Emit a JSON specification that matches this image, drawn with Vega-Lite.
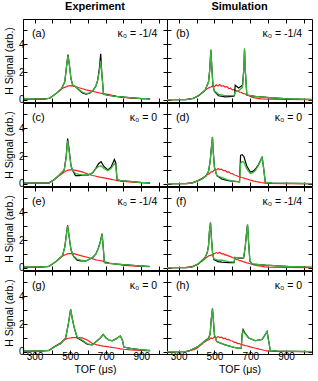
{
"$schema": "https://vega.github.io/schema/vega-lite/v6.json",
"padding": {"left": 3, "top": 0, "right": 0, "bottom": 0},
"config": {
  "font": "Liberation Sans",
  "view": {"stroke": "black", "strokeWidth": 1},
  "axis": {"grid": false, "domainColor": "black", "domainWidth": 1, "tickColor": "black", "tickSize": -4, "tickWidth": 1, "labelFontSize": 10, "labelColor": "black", "labelPadding": 3, "titleFontSize": 10.5, "titleFontWeight": "normal", "titleColor": "black", "titlePadding": 4},
  "axisBottom": {"labelPadding": 1, "titlePadding": 3},
  "title": {"fontSize": 11, "fontWeight": "bold", "color": "black", "anchor": "middle", "offset": 7}
},
"data": {"name": "d"},
"datasets": {"d": [
{"p":"a","lab":"(a)","kap":"κ₀ = -1/4"},{"p":"b","lab":"(b)","kap":"κ₀ = -1/4"},{"p":"c","lab":"(c)","kap":"κ₀ = 0"},{"p":"d","lab":"(d)","kap":"κ₀ = 0"},
{"p":"e","lab":"(e)","kap":"κ₀ = -1/4"},{"p":"f","lab":"(f)","kap":"κ₀ = -1/4"},{"p":"g","lab":"(g)","kap":"κ₀ = 0"},{"p":"h","lab":"(h)","kap":"κ₀ = 0"},
{"p":"a","t":240,"k":0.05,"g":0.05,"r":0.03},{"p":"a","t":300,"k":0.06,"g":0.06,"r":0.04},{"p":"a","t":360,"k":0.08,"g":0.08,"r":0.08},{"p":"a","t":385,"k":0.12,"g":0.12,"r":0.12},{"p":"a","t":420,"k":0.45,"g":0.45,"r":0.45},{"p":"a","t":450,"k":0.75,"g":0.75,"r":0.8},{"p":"a","t":470,"k":1.3,"g":1.3,"r":0.9},{"p":"a","t":480,"k":2.4,"g":2.4,"r":0.95},{"p":"a","t":488,"k":3.25,"g":3.2,"r":1.0},{"p":"a","t":496,"k":2.5,"g":2.5,"r":1.0},{"p":"a","t":505,"k":1.5,"g":1.5,"r":1.02},{"p":"a","t":515,"k":1.05,"g":1.05,"r":1.0},{"p":"a","t":530,"k":0.95,"g":0.95,"r":0.95},{"p":"a","t":550,"k":0.7,"g":0.75,"r":0.87},{"p":"a","t":570,"k":0.5,"g":0.55,"r":0.8},{"p":"a","t":590,"k":0.42,"g":0.45,"r":0.72},{"p":"a","t":610,"k":0.48,"g":0.5,"r":0.66},{"p":"a","t":630,"k":0.7,"g":0.7,"r":0.6},{"p":"a","t":645,"k":1.0,"g":1.0,"r":0.56},{"p":"a","t":655,"k":1.4,"g":1.4,"r":0.53},{"p":"a","t":665,"k":2.3,"g":2.1,"r":0.5},{"p":"a","t":672,"k":3.3,"g":2.8,"r":0.48},{"p":"a","t":678,"k":2.0,"g":1.9,"r":0.47},{"p":"a","t":688,"k":0.4,"g":0.4,"r":0.45},{"p":"a","t":720,"k":0.32,"g":0.32,"r":0.38},{"p":"a","t":760,"k":0.25,"g":0.25,"r":0.25},{"p":"a","t":800,"k":0.2,"g":0.2,"r":0.18},{"p":"a","t":850,"k":0.15,"g":0.15,"r":0.12},{"p":"a","t":900,"k":0.1,"g":0.1,"r":0.09},{"p":"a","t":950,"k":0.08,"g":0.08,"r":0.07},
{"p":"c","t":240,"k":0.05,"g":0.05,"r":0.03},{"p":"c","t":320,"k":0.05,"g":0.05,"r":0.05},{"p":"c","t":383,"k":0.08,"g":0.08,"r":0.08},{"p":"c","t":410,"k":0.3,"g":0.3,"r":0.3},{"p":"c","t":440,"k":0.65,"g":0.65,"r":0.6},{"p":"c","t":467,"k":1.0,"g":1.0,"r":0.85},{"p":"c","t":478,"k":2.0,"g":1.9,"r":0.92},{"p":"c","t":486,"k":3.25,"g":3.1,"r":0.97},{"p":"c","t":495,"k":2.4,"g":2.3,"r":1.0},{"p":"c","t":505,"k":1.3,"g":1.3,"r":1.0},{"p":"c","t":515,"k":0.95,"g":0.95,"r":1.0},{"p":"c","t":530,"k":0.6,"g":0.75,"r":0.97},{"p":"c","t":550,"k":0.6,"g":0.68,"r":0.92},{"p":"c","t":571,"k":0.62,"g":0.64,"r":0.85},{"p":"c","t":600,"k":0.62,"g":0.64,"r":0.7},{"p":"c","t":627,"k":0.8,"g":0.8,"r":0.6},{"p":"c","t":646,"k":1.15,"g":1.1,"r":0.55},{"p":"c","t":660,"k":1.45,"g":1.25,"r":0.5},{"p":"c","t":674,"k":1.6,"g":1.3,"r":0.47},{"p":"c","t":690,"k":1.25,"g":1.1,"r":0.43},{"p":"c","t":712,"k":1.0,"g":0.95,"r":0.38},{"p":"c","t":730,"k":1.2,"g":1.1,"r":0.33},{"p":"c","t":749,"k":1.75,"g":1.45,"r":0.28},{"p":"c","t":757,"k":1.5,"g":1.3,"r":0.26},{"p":"c","t":764,"k":0.3,"g":0.3,"r":0.24},{"p":"c","t":790,"k":0.22,"g":0.22,"r":0.2},{"p":"c","t":833,"k":0.18,"g":0.18,"r":0.14},{"p":"c","t":900,"k":0.1,"g":0.1,"r":0.09},{"p":"c","t":950,"k":0.07,"g":0.07,"r":0.06},
{"p":"e","t":240,"k":0.05,"g":0.05,"r":0.03},{"p":"e","t":320,"k":0.06,"g":0.06,"r":0.05},{"p":"e","t":380,"k":0.1,"g":0.1,"r":0.1},{"p":"e","t":420,"k":0.45,"g":0.45,"r":0.45},{"p":"e","t":458,"k":0.9,"g":0.9,"r":0.85},{"p":"e","t":470,"k":1.5,"g":1.5,"r":0.92},{"p":"e","t":480,"k":2.5,"g":2.4,"r":0.98},{"p":"e","t":486,"k":3.05,"g":3.0,"r":1.0},{"p":"e","t":495,"k":2.2,"g":2.2,"r":1.02},{"p":"e","t":505,"k":1.3,"g":1.3,"r":1.03},{"p":"e","t":520,"k":0.8,"g":0.85,"r":1.02},{"p":"e","t":540,"k":0.55,"g":0.62,"r":0.95},{"p":"e","t":560,"k":0.5,"g":0.55,"r":0.88},{"p":"e","t":590,"k":0.5,"g":0.5,"r":0.78},{"p":"e","t":627,"k":0.75,"g":0.75,"r":0.65},{"p":"e","t":645,"k":1.0,"g":1.0,"r":0.58},{"p":"e","t":658,"k":1.4,"g":1.35,"r":0.55},{"p":"e","t":670,"k":1.9,"g":1.85,"r":0.52},{"p":"e","t":680,"k":2.45,"g":2.4,"r":0.5},{"p":"e","t":686,"k":1.5,"g":1.5,"r":0.48},{"p":"e","t":693,"k":0.38,"g":0.38,"r":0.45},{"p":"e","t":720,"k":0.32,"g":0.32,"r":0.35},{"p":"e","t":760,"k":0.28,"g":0.28,"r":0.26},{"p":"e","t":796,"k":0.24,"g":0.24,"r":0.2},{"p":"e","t":850,"k":0.18,"g":0.18,"r":0.14},{"p":"e","t":890,"k":0.14,"g":0.14,"r":0.12},{"p":"e","t":946,"k":0.1,"g":0.1,"r":0.09},
{"p":"g","t":240,"k":0.05,"g":0.05,"r":0.03},{"p":"g","t":320,"k":0.06,"g":0.06,"r":0.05},{"p":"g","t":381,"k":0.1,"g":0.1,"r":0.1},{"p":"g","t":409,"k":0.35,"g":0.35,"r":0.35},{"p":"g","t":447,"k":0.6,"g":0.6,"r":0.65},{"p":"g","t":475,"k":1.0,"g":1.0,"r":0.92},{"p":"g","t":490,"k":2.0,"g":2.0,"r":0.98},{"p":"g","t":503,"k":3.05,"g":3.05,"r":1.0},{"p":"g","t":512,"k":2.4,"g":2.4,"r":1.02},{"p":"g","t":522,"k":1.8,"g":1.8,"r":1.03},{"p":"g","t":540,"k":1.0,"g":1.05,"r":1.02},{"p":"g","t":568,"k":0.8,"g":0.85,"r":1.0},{"p":"g","t":596,"k":0.55,"g":0.6,"r":0.85},{"p":"g","t":624,"k":0.5,"g":0.5,"r":0.62},{"p":"g","t":652,"k":0.8,"g":0.8,"r":0.5},{"p":"g","t":670,"k":1.0,"g":1.0,"r":0.45},{"p":"g","t":686,"k":1.25,"g":1.25,"r":0.42},{"p":"g","t":702,"k":1.0,"g":1.0,"r":0.4},{"p":"g","t":718,"k":0.85,"g":0.85,"r":0.36},{"p":"g","t":737,"k":0.8,"g":0.8,"r":0.32},{"p":"g","t":760,"k":0.95,"g":0.95,"r":0.28},{"p":"g","t":783,"k":1.15,"g":1.15,"r":0.22},{"p":"g","t":795,"k":0.8,"g":0.8,"r":0.2},{"p":"g","t":802,"k":0.35,"g":0.35,"r":0.19},{"p":"g","t":840,"k":0.25,"g":0.25,"r":0.15},{"p":"g","t":900,"k":0.15,"g":0.15,"r":0.11},{"p":"g","t":950,"k":0.1,"g":0.1,"r":0.08},
{"p":"b","t":235,"k":0.01,"g":0.01},{"p":"b","t":340,"k":0.02,"g":0.02},{"p":"b","t":380,"k":0.1,"g":0.1},{"p":"b","t":411,"k":0.3,"g":0.3},{"p":"b","t":448,"k":0.7,"g":0.7},{"p":"b","t":467,"k":1.3,"g":1.3},{"p":"b","t":474,"k":2.2,"g":2.2},{"p":"b","t":480,"k":3.6,"g":3.6},{"p":"b","t":486,"k":2.2,"g":2.2},{"p":"b","t":492,"k":1.0,"g":1.0},{"p":"b","t":500,"k":0.6,"g":0.65},{"p":"b","t":523,"k":0.3,"g":0.4},{"p":"b","t":560,"k":0.22,"g":0.3},{"p":"b","t":600,"k":0.25,"g":0.3},{"p":"b","t":612,"k":0.3,"g":0.35},{"p":"b","t":616,"k":1.05,"g":0.6},{"p":"b","t":635,"k":0.85,"g":0.65},{"p":"b","t":657,"k":1.05,"g":0.9},{"p":"b","t":664,"k":2.2,"g":2.2},{"p":"b","t":668,"k":3.6,"g":3.7},{"p":"b","t":673,"k":2.0,"g":2.0},{"p":"b","t":681,"k":0.35,"g":0.35},{"p":"b","t":728,"k":0.25,"g":0.25},{"p":"b","t":822,"k":0.15,"g":0.15},{"p":"b","t":915,"k":0.08,"g":0.08},{"p":"b","t":1045,"k":0.03,"g":0.03},
{"p":"b","t":235,"r":0.01},{"p":"b","t":340,"r":0.03},{"p":"b","t":380,"r":0.1},{"p":"b","t":400,"r":0.22},{"p":"b","t":410,"r":0.3},{"p":"b","t":420,"r":0.38},{"p":"b","t":430,"r":0.5},{"p":"b","t":440,"r":0.6},{"p":"b","t":450,"r":0.72},{"p":"b","t":460,"r":0.8},{"p":"b","t":470,"r":0.88},{"p":"b","t":480,"r":0.92},{"p":"b","t":490,"r":1.02},{"p":"b","t":500,"r":0.95},{"p":"b","t":510,"r":1.08},{"p":"b","t":520,"r":1.0},{"p":"b","t":530,"r":1.1},{"p":"b","t":540,"r":0.98},{"p":"b","t":550,"r":1.02},{"p":"b","t":560,"r":0.92},{"p":"b","t":570,"r":0.95},{"p":"b","t":580,"r":0.82},{"p":"b","t":590,"r":0.85},{"p":"b","t":600,"r":0.72},{"p":"b","t":610,"r":0.75},{"p":"b","t":620,"r":0.65},{"p":"b","t":630,"r":0.66},{"p":"b","t":640,"r":0.55},{"p":"b","t":650,"r":0.55},{"p":"b","t":660,"r":0.45},{"p":"b","t":670,"r":0.44},{"p":"b","t":680,"r":0.35},{"p":"b","t":690,"r":0.32},{"p":"b","t":700,"r":0.25},{"p":"b","t":710,"r":0.2},{"p":"b","t":720,"r":0.16},{"p":"b","t":740,"r":0.11},{"p":"b","t":760,"r":0.08},{"p":"b","t":800,"r":0.05},{"p":"b","t":900,"r":0.03},{"p":"b","t":1045,"r":0.02},
{"p":"d","t":235,"k":0.01,"g":0.01},{"p":"d","t":340,"k":0.02,"g":0.02},{"p":"d","t":373,"k":0.06,"g":0.06},{"p":"d","t":400,"k":0.18,"g":0.18},{"p":"d","t":430,"k":0.35,"g":0.35},{"p":"d","t":455,"k":0.6,"g":0.6},{"p":"d","t":467,"k":0.9,"g":0.9},{"p":"d","t":476,"k":1.6,"g":1.6},{"p":"d","t":483,"k":2.6,"g":2.6},{"p":"d","t":489,"k":3.35,"g":3.35},{"p":"d","t":494,"k":2.2,"g":2.2},{"p":"d","t":500,"k":1.2,"g":1.2},{"p":"d","t":513,"k":0.6,"g":0.6},{"p":"d","t":541,"k":0.35,"g":0.45},{"p":"d","t":570,"k":0.25,"g":0.3},{"p":"d","t":597,"k":0.2,"g":0.22},{"p":"d","t":640,"k":0.15,"g":0.15},{"p":"d","t":646,"k":2.05,"g":1.45},{"p":"d","t":655,"k":2.1,"g":1.6},{"p":"d","t":665,"k":1.95,"g":1.55},{"p":"d","t":680,"k":1.3,"g":1.1},{"p":"d","t":700,"k":0.85,"g":0.75},{"p":"d","t":715,"k":0.9,"g":0.8},{"p":"d","t":728,"k":1.05,"g":0.95},{"p":"d","t":745,"k":1.35,"g":1.3},{"p":"d","t":760,"k":1.75,"g":1.7},{"p":"d","t":766,"k":1.95,"g":1.95},{"p":"d","t":774,"k":1.2,"g":1.2},{"p":"d","t":784,"k":0.12,"g":0.12},{"p":"d","t":820,"k":0.06,"g":0.06},{"p":"d","t":1045,"k":0.02,"g":0.02},
{"p":"d","t":235,"r":0.01},{"p":"d","t":340,"r":0.03},{"p":"d","t":380,"r":0.1},{"p":"d","t":400,"r":0.2},{"p":"d","t":410,"r":0.25},{"p":"d","t":420,"r":0.33},{"p":"d","t":430,"r":0.38},{"p":"d","t":440,"r":0.48},{"p":"d","t":450,"r":0.55},{"p":"d","t":460,"r":0.68},{"p":"d","t":470,"r":0.72},{"p":"d","t":480,"r":0.85},{"p":"d","t":490,"r":0.88},{"p":"d","t":500,"r":1.0},{"p":"d","t":510,"r":0.98},{"p":"d","t":520,"r":1.1},{"p":"d","t":530,"r":1.02},{"p":"d","t":540,"r":1.05},{"p":"d","t":550,"r":0.95},{"p":"d","t":560,"r":0.96},{"p":"d","t":570,"r":0.85},{"p":"d","t":580,"r":0.86},{"p":"d","t":590,"r":0.75},{"p":"d","t":600,"r":0.74},{"p":"d","t":610,"r":0.64},{"p":"d","t":620,"r":0.62},{"p":"d","t":630,"r":0.55},{"p":"d","t":640,"r":0.52},{"p":"d","t":650,"r":0.46},{"p":"d","t":660,"r":0.44},{"p":"d","t":670,"r":0.38},{"p":"d","t":680,"r":0.36},{"p":"d","t":690,"r":0.32},{"p":"d","t":700,"r":0.27},{"p":"d","t":710,"r":0.25},{"p":"d","t":720,"r":0.2},{"p":"d","t":730,"r":0.18},{"p":"d","t":740,"r":0.14},{"p":"d","t":750,"r":0.13},{"p":"d","t":760,"r":0.1},{"p":"d","t":780,"r":0.06},{"p":"d","t":800,"r":0.04},{"p":"d","t":900,"r":0.02},{"p":"d","t":1045,"r":0.01},
{"p":"f","t":235,"k":0.01,"g":0.01},{"p":"f","t":340,"k":0.02,"g":0.02},{"p":"f","t":373,"k":0.06,"g":0.06},{"p":"f","t":411,"k":0.3,"g":0.3},{"p":"f","t":448,"k":0.75,"g":0.75},{"p":"f","t":460,"k":1.1,"g":1.1},{"p":"f","t":467,"k":1.6,"g":1.6},{"p":"f","t":472,"k":2.6,"g":2.6},{"p":"f","t":478,"k":3.25,"g":3.25},{"p":"f","t":484,"k":2.0,"g":2.0},{"p":"f","t":490,"k":1.0,"g":1.0},{"p":"f","t":497,"k":0.6,"g":0.65},{"p":"f","t":520,"k":0.45,"g":0.55},{"p":"f","t":541,"k":0.42,"g":0.55},{"p":"f","t":580,"k":0.38,"g":0.45},{"p":"f","t":610,"k":0.38,"g":0.42},{"p":"f","t":614,"k":0.75,"g":0.75},{"p":"f","t":640,"k":0.7,"g":0.72},{"p":"f","t":663,"k":0.72,"g":0.75},{"p":"f","t":672,"k":1.5,"g":1.5},{"p":"f","t":680,"k":2.6,"g":2.6},{"p":"f","t":685,"k":3.1,"g":3.1},{"p":"f","t":690,"k":2.0,"g":2.0},{"p":"f","t":698,"k":0.5,"g":0.5},{"p":"f","t":710,"k":0.28,"g":0.28},{"p":"f","t":784,"k":0.2,"g":0.2},{"p":"f","t":915,"k":0.1,"g":0.1},{"p":"f","t":1045,"k":0.04,"g":0.04},
{"p":"f","t":235,"r":0.01},{"p":"f","t":340,"r":0.03},{"p":"f","t":380,"r":0.12},{"p":"f","t":400,"r":0.2},{"p":"f","t":410,"r":0.28},{"p":"f","t":420,"r":0.38},{"p":"f","t":430,"r":0.48},{"p":"f","t":440,"r":0.58},{"p":"f","t":450,"r":0.7},{"p":"f","t":460,"r":0.78},{"p":"f","t":470,"r":0.88},{"p":"f","t":480,"r":0.9},{"p":"f","t":490,"r":1.0},{"p":"f","t":500,"r":1.02},{"p":"f","t":510,"r":1.1},{"p":"f","t":520,"r":1.05},{"p":"f","t":530,"r":1.12},{"p":"f","t":540,"r":1.0},{"p":"f","t":550,"r":1.02},{"p":"f","t":560,"r":0.92},{"p":"f","t":570,"r":0.93},{"p":"f","t":580,"r":0.84},{"p":"f","t":590,"r":0.82},{"p":"f","t":600,"r":0.74},{"p":"f","t":610,"r":0.72},{"p":"f","t":620,"r":0.62},{"p":"f","t":630,"r":0.6},{"p":"f","t":640,"r":0.52},{"p":"f","t":650,"r":0.5},{"p":"f","t":660,"r":0.45},{"p":"f","t":670,"r":0.42},{"p":"f","t":680,"r":0.36},{"p":"f","t":690,"r":0.34},{"p":"f","t":700,"r":0.3},{"p":"f","t":710,"r":0.27},{"p":"f","t":720,"r":0.22},{"p":"f","t":740,"r":0.16},{"p":"f","t":760,"r":0.13},{"p":"f","t":780,"r":0.08},{"p":"f","t":800,"r":0.06},{"p":"f","t":900,"r":0.03},{"p":"f","t":1045,"r":0.02},
{"p":"h","t":235,"k":0.01,"g":0.01},{"p":"h","t":340,"k":0.02,"g":0.02},{"p":"h","t":355,"k":0.05,"g":0.05},{"p":"h","t":411,"k":0.4,"g":0.4},{"p":"h","t":448,"k":0.8,"g":0.8},{"p":"h","t":468,"k":1.0,"g":1.0},{"p":"h","t":476,"k":1.3,"g":1.3},{"p":"h","t":482,"k":2.3,"g":2.3},{"p":"h","t":489,"k":3.1,"g":3.1},{"p":"h","t":494,"k":2.3,"g":2.3},{"p":"h","t":500,"k":1.2,"g":1.2},{"p":"h","t":513,"k":0.75,"g":0.75},{"p":"h","t":560,"k":0.5,"g":0.5},{"p":"h","t":616,"k":0.3,"g":0.3},{"p":"h","t":650,"k":0.25,"g":0.25},{"p":"h","t":654,"k":1.2,"g":1.1},{"p":"h","t":660,"k":1.6,"g":1.5},{"p":"h","t":668,"k":1.4,"g":1.35},{"p":"h","t":691,"k":1.0,"g":1.0},{"p":"h","t":728,"k":0.8,"g":0.8},{"p":"h","t":766,"k":0.9,"g":0.9},{"p":"h","t":782,"k":1.2,"g":1.2},{"p":"h","t":794,"k":1.45,"g":1.45},{"p":"h","t":800,"k":1.0,"g":1.0},{"p":"h","t":812,"k":0.1,"g":0.1},{"p":"h","t":850,"k":0.06,"g":0.06},{"p":"h","t":1045,"k":0.02,"g":0.02},
{"p":"h","t":235,"r":0.01},{"p":"h","t":340,"r":0.03},{"p":"h","t":380,"r":0.15},{"p":"h","t":400,"r":0.25},{"p":"h","t":410,"r":0.35},{"p":"h","t":420,"r":0.45},{"p":"h","t":430,"r":0.55},{"p":"h","t":440,"r":0.68},{"p":"h","t":450,"r":0.75},{"p":"h","t":460,"r":0.85},{"p":"h","t":470,"r":0.88},{"p":"h","t":480,"r":1.0},{"p":"h","t":490,"r":0.95},{"p":"h","t":500,"r":1.08},{"p":"h","t":510,"r":1.0},{"p":"h","t":520,"r":1.1},{"p":"h","t":530,"r":1.02},{"p":"h","t":540,"r":1.05},{"p":"h","t":550,"r":0.95},{"p":"h","t":560,"r":0.98},{"p":"h","t":570,"r":0.88},{"p":"h","t":580,"r":0.9},{"p":"h","t":590,"r":0.8},{"p":"h","t":600,"r":0.78},{"p":"h","t":610,"r":0.7},{"p":"h","t":620,"r":0.68},{"p":"h","t":630,"r":0.6},{"p":"h","t":640,"r":0.6},{"p":"h","t":650,"r":0.52},{"p":"h","t":660,"r":0.5},{"p":"h","t":670,"r":0.45},{"p":"h","t":680,"r":0.44},{"p":"h","t":690,"r":0.4},{"p":"h","t":700,"r":0.36},{"p":"h","t":710,"r":0.33},{"p":"h","t":720,"r":0.3},{"p":"h","t":730,"r":0.26},{"p":"h","t":740,"r":0.24},{"p":"h","t":750,"r":0.2},{"p":"h","t":760,"r":0.17},{"p":"h","t":770,"r":0.14},{"p":"h","t":780,"r":0.1},{"p":"h","t":800,"r":0.06},{"p":"h","t":900,"r":0.03},{"p":"h","t":1045,"r":0.02}
]},
"bounds": "flush",
"columns": 2,
"spacing": {"row": 1, "column": 0},
"concat": [
   {"width": 144, "height": 83, "title": "Experiment", "transform": [{"filter": "datum.p=='a'"}], "resolve": {"axis": {"x": "independent", "y": "independent"}},
    "layer": [
     {"transform": [{"filter": "isValid(datum.r)"}], "mark": {"type": "line", "color": "#ff1e1e", "strokeWidth": 1.2, "clip": true},
      "encoding": {"x": {"field": "t", "type": "quantitative", "scale": {"domain": [235, 1045], "nice": false, "zero": false}, "axis": {"values": [300,400,500,600,700,800,900,1000], "labels": false, "title": null}},
                   "y": {"field": "r", "type": "quantitative", "scale": {"domain": [-0.15, 5.8], "nice": false, "zero": false}, "axis": {"values": [0,1,2,3,4,5], "labelExpr": "datum.value % 2 == 0 ? datum.label : ''", "title": "H Signal (arb.)"}}}},
     {"transform": [{"filter": "isValid(datum.k)"}], "mark": {"type": "line", "color": "black", "strokeWidth": 1.2, "clip": true},
      "encoding": {"x": {"field": "t", "type": "quantitative", "axis": null}, "y": {"field": "k", "type": "quantitative", "axis": null}}},
     {"transform": [{"filter": "isValid(datum.g)"}], "mark": {"type": "line", "color": "#3ab53a", "strokeWidth": 1.3, "clip": true},
      "encoding": {"x": {"field": "t", "type": "quantitative", "axis": null}, "y": {"field": "g", "type": "quantitative", "axis": null}}},
     {"transform": [{"filter": "isValid(datum.lab)"}], "mark": {"type": "text", "align": "left", "baseline": "middle", "fontSize": 11},
      "encoding": {"x": {"datum": 285, "type": "quantitative", "axis": {"orient": "top", "values": [300,400,500,600,700,800,900,1000], "labels": false, "title": null, "domain": false}},
                   "y": {"datum": 4.7, "type": "quantitative", "axis": {"orient": "right", "values": [0,1,2,3,4,5], "labels": false, "title": null, "domain": false}}, "text": {"field": "lab"}}},
     {"transform": [{"filter": "isValid(datum.lab)"}], "mark": {"type": "text", "align": "right", "baseline": "middle", "fontSize": 10.5},
      "encoding": {"x": {"datum": 990, "type": "quantitative", "axis": null}, "y": {"datum": 4.7, "type": "quantitative", "axis": null}, "text": {"field": "kap"}}}
    ]},
   {"width": 145, "height": 83, "title": "Simulation", "transform": [{"filter": "datum.p=='b'"}], "resolve": {"axis": {"x": "independent", "y": "independent"}},
    "layer": [
     {"transform": [{"filter": "isValid(datum.r)"}], "mark": {"type": "line", "color": "#ff1e1e", "strokeWidth": 1.2, "clip": true},
      "encoding": {"x": {"field": "t", "type": "quantitative", "scale": {"domain": [235, 1045], "nice": false, "zero": false}, "axis": {"values": [300,400,500,600,700,800,900,1000], "labels": false, "title": null}},
                   "y": {"field": "r", "type": "quantitative", "scale": {"domain": [-0.15, 5.8], "nice": false, "zero": false}, "axis": {"values": [0,1,2,3,4,5], "labels": false, "title": null}}}},
     {"transform": [{"filter": "isValid(datum.k)"}], "mark": {"type": "line", "color": "black", "strokeWidth": 1.2, "clip": true},
      "encoding": {"x": {"field": "t", "type": "quantitative", "axis": null}, "y": {"field": "k", "type": "quantitative", "axis": null}}},
     {"transform": [{"filter": "isValid(datum.g)"}], "mark": {"type": "line", "color": "#3ab53a", "strokeWidth": 1.3, "clip": true},
      "encoding": {"x": {"field": "t", "type": "quantitative", "axis": null}, "y": {"field": "g", "type": "quantitative", "axis": null}}},
     {"transform": [{"filter": "isValid(datum.lab)"}], "mark": {"type": "text", "align": "left", "baseline": "middle", "fontSize": 11},
      "encoding": {"x": {"datum": 285, "type": "quantitative", "axis": {"orient": "top", "values": [300,400,500,600,700,800,900,1000], "labels": false, "title": null, "domain": false}},
                   "y": {"datum": 4.7, "type": "quantitative", "axis": {"orient": "right", "values": [0,1,2,3,4,5], "labels": false, "title": null, "domain": false}}, "text": {"field": "lab"}}},
     {"transform": [{"filter": "isValid(datum.lab)"}], "mark": {"type": "text", "align": "right", "baseline": "middle", "fontSize": 10.5},
      "encoding": {"x": {"datum": 990, "type": "quantitative", "axis": null}, "y": {"datum": 4.7, "type": "quantitative", "axis": null}, "text": {"field": "kap"}}}
    ]},
   {"width": 144, "height": 83, "transform": [{"filter": "datum.p=='c'"}], "resolve": {"axis": {"x": "independent", "y": "independent"}},
    "layer": [
     {"transform": [{"filter": "isValid(datum.r)"}], "mark": {"type": "line", "color": "#ff1e1e", "strokeWidth": 1.2, "clip": true},
      "encoding": {"x": {"field": "t", "type": "quantitative", "scale": {"domain": [235, 1045], "nice": false, "zero": false}, "axis": {"values": [300,400,500,600,700,800,900,1000], "labels": false, "title": null}},
                   "y": {"field": "r", "type": "quantitative", "scale": {"domain": [-0.15, 5.8], "nice": false, "zero": false}, "axis": {"values": [0,1,2,3,4,5], "labelExpr": "datum.value % 2 == 0 ? datum.label : ''", "title": "H Signal (arb.)"}}}},
     {"transform": [{"filter": "isValid(datum.k)"}], "mark": {"type": "line", "color": "black", "strokeWidth": 1.2, "clip": true},
      "encoding": {"x": {"field": "t", "type": "quantitative", "axis": null}, "y": {"field": "k", "type": "quantitative", "axis": null}}},
     {"transform": [{"filter": "isValid(datum.g)"}], "mark": {"type": "line", "color": "#3ab53a", "strokeWidth": 1.3, "clip": true},
      "encoding": {"x": {"field": "t", "type": "quantitative", "axis": null}, "y": {"field": "g", "type": "quantitative", "axis": null}}},
     {"transform": [{"filter": "isValid(datum.lab)"}], "mark": {"type": "text", "align": "left", "baseline": "middle", "fontSize": 11},
      "encoding": {"x": {"datum": 285, "type": "quantitative", "axis": {"orient": "top", "values": [300,400,500,600,700,800,900,1000], "labels": false, "title": null, "domain": false}},
                   "y": {"datum": 4.7, "type": "quantitative", "axis": {"orient": "right", "values": [0,1,2,3,4,5], "labels": false, "title": null, "domain": false}}, "text": {"field": "lab"}}},
     {"transform": [{"filter": "isValid(datum.lab)"}], "mark": {"type": "text", "align": "right", "baseline": "middle", "fontSize": 10.5},
      "encoding": {"x": {"datum": 990, "type": "quantitative", "axis": null}, "y": {"datum": 4.7, "type": "quantitative", "axis": null}, "text": {"field": "kap"}}}
    ]},
   {"width": 145, "height": 83, "transform": [{"filter": "datum.p=='d'"}], "resolve": {"axis": {"x": "independent", "y": "independent"}},
    "layer": [
     {"transform": [{"filter": "isValid(datum.r)"}], "mark": {"type": "line", "color": "#ff1e1e", "strokeWidth": 1.2, "clip": true},
      "encoding": {"x": {"field": "t", "type": "quantitative", "scale": {"domain": [235, 1045], "nice": false, "zero": false}, "axis": {"values": [300,400,500,600,700,800,900,1000], "labels": false, "title": null}},
                   "y": {"field": "r", "type": "quantitative", "scale": {"domain": [-0.15, 5.8], "nice": false, "zero": false}, "axis": {"values": [0,1,2,3,4,5], "labels": false, "title": null}}}},
     {"transform": [{"filter": "isValid(datum.k)"}], "mark": {"type": "line", "color": "black", "strokeWidth": 1.2, "clip": true},
      "encoding": {"x": {"field": "t", "type": "quantitative", "axis": null}, "y": {"field": "k", "type": "quantitative", "axis": null}}},
     {"transform": [{"filter": "isValid(datum.g)"}], "mark": {"type": "line", "color": "#3ab53a", "strokeWidth": 1.3, "clip": true},
      "encoding": {"x": {"field": "t", "type": "quantitative", "axis": null}, "y": {"field": "g", "type": "quantitative", "axis": null}}},
     {"transform": [{"filter": "isValid(datum.lab)"}], "mark": {"type": "text", "align": "left", "baseline": "middle", "fontSize": 11},
      "encoding": {"x": {"datum": 285, "type": "quantitative", "axis": {"orient": "top", "values": [300,400,500,600,700,800,900,1000], "labels": false, "title": null, "domain": false}},
                   "y": {"datum": 4.7, "type": "quantitative", "axis": {"orient": "right", "values": [0,1,2,3,4,5], "labels": false, "title": null, "domain": false}}, "text": {"field": "lab"}}},
     {"transform": [{"filter": "isValid(datum.lab)"}], "mark": {"type": "text", "align": "right", "baseline": "middle", "fontSize": 10.5},
      "encoding": {"x": {"datum": 990, "type": "quantitative", "axis": null}, "y": {"datum": 4.7, "type": "quantitative", "axis": null}, "text": {"field": "kap"}}}
    ]},
   {"width": 144, "height": 83, "transform": [{"filter": "datum.p=='e'"}], "resolve": {"axis": {"x": "independent", "y": "independent"}},
    "layer": [
     {"transform": [{"filter": "isValid(datum.r)"}], "mark": {"type": "line", "color": "#ff1e1e", "strokeWidth": 1.2, "clip": true},
      "encoding": {"x": {"field": "t", "type": "quantitative", "scale": {"domain": [235, 1045], "nice": false, "zero": false}, "axis": {"values": [300,400,500,600,700,800,900,1000], "labels": false, "title": null}},
                   "y": {"field": "r", "type": "quantitative", "scale": {"domain": [-0.15, 5.8], "nice": false, "zero": false}, "axis": {"values": [0,1,2,3,4,5], "labelExpr": "datum.value % 2 == 0 ? datum.label : ''", "title": "H Signal (arb.)"}}}},
     {"transform": [{"filter": "isValid(datum.k)"}], "mark": {"type": "line", "color": "black", "strokeWidth": 1.2, "clip": true},
      "encoding": {"x": {"field": "t", "type": "quantitative", "axis": null}, "y": {"field": "k", "type": "quantitative", "axis": null}}},
     {"transform": [{"filter": "isValid(datum.g)"}], "mark": {"type": "line", "color": "#3ab53a", "strokeWidth": 1.3, "clip": true},
      "encoding": {"x": {"field": "t", "type": "quantitative", "axis": null}, "y": {"field": "g", "type": "quantitative", "axis": null}}},
     {"transform": [{"filter": "isValid(datum.lab)"}], "mark": {"type": "text", "align": "left", "baseline": "middle", "fontSize": 11},
      "encoding": {"x": {"datum": 285, "type": "quantitative", "axis": {"orient": "top", "values": [300,400,500,600,700,800,900,1000], "labels": false, "title": null, "domain": false}},
                   "y": {"datum": 4.7, "type": "quantitative", "axis": {"orient": "right", "values": [0,1,2,3,4,5], "labels": false, "title": null, "domain": false}}, "text": {"field": "lab"}}},
     {"transform": [{"filter": "isValid(datum.lab)"}], "mark": {"type": "text", "align": "right", "baseline": "middle", "fontSize": 10.5},
      "encoding": {"x": {"datum": 990, "type": "quantitative", "axis": null}, "y": {"datum": 4.7, "type": "quantitative", "axis": null}, "text": {"field": "kap"}}}
    ]},
   {"width": 145, "height": 83, "transform": [{"filter": "datum.p=='f'"}], "resolve": {"axis": {"x": "independent", "y": "independent"}},
    "layer": [
     {"transform": [{"filter": "isValid(datum.r)"}], "mark": {"type": "line", "color": "#ff1e1e", "strokeWidth": 1.2, "clip": true},
      "encoding": {"x": {"field": "t", "type": "quantitative", "scale": {"domain": [235, 1045], "nice": false, "zero": false}, "axis": {"values": [300,400,500,600,700,800,900,1000], "labels": false, "title": null}},
                   "y": {"field": "r", "type": "quantitative", "scale": {"domain": [-0.15, 5.8], "nice": false, "zero": false}, "axis": {"values": [0,1,2,3,4,5], "labels": false, "title": null}}}},
     {"transform": [{"filter": "isValid(datum.k)"}], "mark": {"type": "line", "color": "black", "strokeWidth": 1.2, "clip": true},
      "encoding": {"x": {"field": "t", "type": "quantitative", "axis": null}, "y": {"field": "k", "type": "quantitative", "axis": null}}},
     {"transform": [{"filter": "isValid(datum.g)"}], "mark": {"type": "line", "color": "#3ab53a", "strokeWidth": 1.3, "clip": true},
      "encoding": {"x": {"field": "t", "type": "quantitative", "axis": null}, "y": {"field": "g", "type": "quantitative", "axis": null}}},
     {"transform": [{"filter": "isValid(datum.lab)"}], "mark": {"type": "text", "align": "left", "baseline": "middle", "fontSize": 11},
      "encoding": {"x": {"datum": 285, "type": "quantitative", "axis": {"orient": "top", "values": [300,400,500,600,700,800,900,1000], "labels": false, "title": null, "domain": false}},
                   "y": {"datum": 4.7, "type": "quantitative", "axis": {"orient": "right", "values": [0,1,2,3,4,5], "labels": false, "title": null, "domain": false}}, "text": {"field": "lab"}}},
     {"transform": [{"filter": "isValid(datum.lab)"}], "mark": {"type": "text", "align": "right", "baseline": "middle", "fontSize": 10.5},
      "encoding": {"x": {"datum": 990, "type": "quantitative", "axis": null}, "y": {"datum": 4.7, "type": "quantitative", "axis": null}, "text": {"field": "kap"}}}
    ]},
   {"width": 144, "height": 83, "transform": [{"filter": "datum.p=='g'"}], "resolve": {"axis": {"x": "independent", "y": "independent"}},
    "layer": [
     {"transform": [{"filter": "isValid(datum.r)"}], "mark": {"type": "line", "color": "#ff1e1e", "strokeWidth": 1.2, "clip": true},
      "encoding": {"x": {"field": "t", "type": "quantitative", "scale": {"domain": [235, 1045], "nice": false, "zero": false}, "axis": {"values": [300,400,500,600,700,800,900,1000], "labelExpr": "(datum.value == 300 || datum.value == 500 || datum.value == 700 || datum.value == 900) ? datum.label : ''", "title": "TOF (μs)"}},
                   "y": {"field": "r", "type": "quantitative", "scale": {"domain": [-0.15, 5.8], "nice": false, "zero": false}, "axis": {"values": [0,1,2,3,4,5], "labelExpr": "datum.value % 2 == 0 ? datum.label : ''", "title": "H Signal (arb.)"}}}},
     {"transform": [{"filter": "isValid(datum.k)"}], "mark": {"type": "line", "color": "black", "strokeWidth": 1.2, "clip": true},
      "encoding": {"x": {"field": "t", "type": "quantitative", "axis": null}, "y": {"field": "k", "type": "quantitative", "axis": null}}},
     {"transform": [{"filter": "isValid(datum.g)"}], "mark": {"type": "line", "color": "#3ab53a", "strokeWidth": 1.3, "clip": true},
      "encoding": {"x": {"field": "t", "type": "quantitative", "axis": null}, "y": {"field": "g", "type": "quantitative", "axis": null}}},
     {"transform": [{"filter": "isValid(datum.lab)"}], "mark": {"type": "text", "align": "left", "baseline": "middle", "fontSize": 11},
      "encoding": {"x": {"datum": 285, "type": "quantitative", "axis": {"orient": "top", "values": [300,400,500,600,700,800,900,1000], "labels": false, "title": null, "domain": false}},
                   "y": {"datum": 4.7, "type": "quantitative", "axis": {"orient": "right", "values": [0,1,2,3,4,5], "labels": false, "title": null, "domain": false}}, "text": {"field": "lab"}}},
     {"transform": [{"filter": "isValid(datum.lab)"}], "mark": {"type": "text", "align": "right", "baseline": "middle", "fontSize": 10.5},
      "encoding": {"x": {"datum": 990, "type": "quantitative", "axis": null}, "y": {"datum": 4.7, "type": "quantitative", "axis": null}, "text": {"field": "kap"}}}
    ]},
   {"width": 145, "height": 83, "transform": [{"filter": "datum.p=='h'"}], "resolve": {"axis": {"x": "independent", "y": "independent"}},
    "layer": [
     {"transform": [{"filter": "isValid(datum.r)"}], "mark": {"type": "line", "color": "#ff1e1e", "strokeWidth": 1.2, "clip": true},
      "encoding": {"x": {"field": "t", "type": "quantitative", "scale": {"domain": [235, 1045], "nice": false, "zero": false}, "axis": {"values": [300,400,500,600,700,800,900,1000], "labelExpr": "(datum.value == 300 || datum.value == 500 || datum.value == 700 || datum.value == 900) ? datum.label : ''", "title": "TOF (μs)"}},
                   "y": {"field": "r", "type": "quantitative", "scale": {"domain": [-0.15, 5.8], "nice": false, "zero": false}, "axis": {"values": [0,1,2,3,4,5], "labels": false, "title": null}}}},
     {"transform": [{"filter": "isValid(datum.k)"}], "mark": {"type": "line", "color": "black", "strokeWidth": 1.2, "clip": true},
      "encoding": {"x": {"field": "t", "type": "quantitative", "axis": null}, "y": {"field": "k", "type": "quantitative", "axis": null}}},
     {"transform": [{"filter": "isValid(datum.g)"}], "mark": {"type": "line", "color": "#3ab53a", "strokeWidth": 1.3, "clip": true},
      "encoding": {"x": {"field": "t", "type": "quantitative", "axis": null}, "y": {"field": "g", "type": "quantitative", "axis": null}}},
     {"transform": [{"filter": "isValid(datum.lab)"}], "mark": {"type": "text", "align": "left", "baseline": "middle", "fontSize": 11},
      "encoding": {"x": {"datum": 285, "type": "quantitative", "axis": {"orient": "top", "values": [300,400,500,600,700,800,900,1000], "labels": false, "title": null, "domain": false}},
                   "y": {"datum": 4.7, "type": "quantitative", "axis": {"orient": "right", "values": [0,1,2,3,4,5], "labels": false, "title": null, "domain": false}}, "text": {"field": "lab"}}},
     {"transform": [{"filter": "isValid(datum.lab)"}], "mark": {"type": "text", "align": "right", "baseline": "middle", "fontSize": 10.5},
      "encoding": {"x": {"datum": 990, "type": "quantitative", "axis": null}, "y": {"datum": 4.7, "type": "quantitative", "axis": null}, "text": {"field": "kap"}}}
    ]}
]
}
